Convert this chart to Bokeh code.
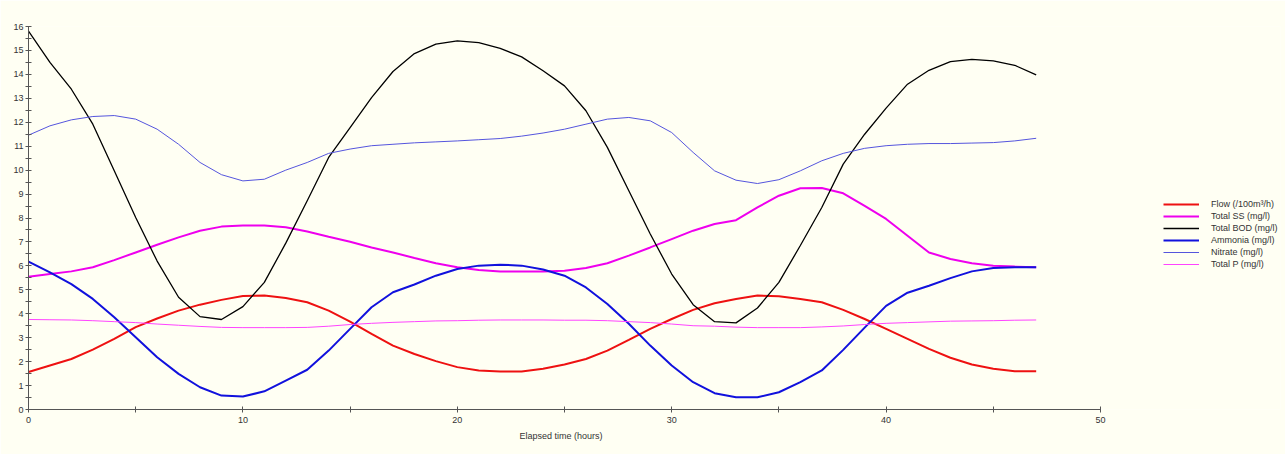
from bokeh.plotting import figure
from bokeh.models import Range1d, FixedTicker, Legend, LegendItem, Title
from bokeh.embed import file_html
from bokeh.resources import INLINE

hours = list(range(48))

flow = [1.57, 1.84, 2.11, 2.50, 2.95, 3.44, 3.80, 4.13, 4.38, 4.58, 4.74, 4.76,
        4.66, 4.48, 4.13, 3.67, 3.16, 2.67, 2.32, 2.02, 1.77, 1.63, 1.59, 1.59,
        1.70, 1.88, 2.11, 2.46, 2.91, 3.37, 3.78, 4.16, 4.44, 4.62, 4.76, 4.73,
        4.62, 4.48, 4.16, 3.78, 3.37, 2.95, 2.53, 2.16, 1.88, 1.70, 1.60, 1.60]

total_ss = [5.55, 5.66, 5.77, 5.94, 6.24, 6.56, 6.88, 7.19, 7.47, 7.64, 7.69, 7.69,
            7.61, 7.44, 7.22, 7.01, 6.77, 6.56, 6.33, 6.11, 5.94, 5.83, 5.77, 5.77,
            5.77, 5.80, 5.91, 6.11, 6.43, 6.77, 7.12, 7.47, 7.75, 7.91, 8.44, 8.93,
            9.24, 9.25, 9.03, 8.51, 7.96, 7.26, 6.56, 6.29, 6.11, 6.01, 5.97, 5.94]

total_bod = [15.81, 14.50, 13.38, 11.92, 9.97, 8.02, 6.20, 4.69, 3.88, 3.76, 4.30, 5.31,
             6.95, 8.72, 10.53, 11.78, 13.03, 14.12, 14.87, 15.26, 15.40, 15.33, 15.09, 14.73,
             14.15, 13.52, 12.48, 10.95, 9.14, 7.33, 5.66, 4.38, 3.67, 3.62, 4.24, 5.31,
             6.85, 8.44, 10.25, 11.50, 12.59, 13.59, 14.17, 14.53, 14.63, 14.56, 14.38, 13.98]

ammonia = [6.18, 5.73, 5.24, 4.62, 3.85, 3.02, 2.18, 1.49, 0.93, 0.58, 0.54, 0.76,
           1.21, 1.66, 2.46, 3.37, 4.27, 4.90, 5.22, 5.59, 5.87, 6.01, 6.05, 6.01,
           5.85, 5.59, 5.10, 4.41, 3.58, 2.67, 1.84, 1.14, 0.68, 0.51, 0.51, 0.72,
           1.14, 1.63, 2.49, 3.42, 4.33, 4.88, 5.17, 5.49, 5.77, 5.91, 5.94, 5.94]

nitrate = [11.46, 11.85, 12.10, 12.24, 12.28, 12.13, 11.71, 11.08, 10.32, 9.81, 9.55, 9.62,
           10.00, 10.32, 10.70, 10.88, 11.02, 11.08, 11.14, 11.18, 11.22, 11.27, 11.32, 11.42,
           11.55, 11.71, 11.92, 12.13, 12.20, 12.06, 11.57, 10.74, 9.97, 9.58, 9.44, 9.60,
           9.97, 10.39, 10.70, 10.91, 11.02, 11.08, 11.11, 11.11, 11.13, 11.15, 11.22, 11.33]

total_p = [3.76, 3.75, 3.74, 3.71, 3.67, 3.63, 3.57, 3.52, 3.47, 3.43, 3.42, 3.42,
           3.42, 3.43, 3.48, 3.55, 3.60, 3.64, 3.67, 3.70, 3.71, 3.73, 3.74, 3.74,
           3.74, 3.73, 3.73, 3.71, 3.67, 3.63, 3.57, 3.50, 3.48, 3.44, 3.42, 3.42,
           3.42, 3.45, 3.49, 3.55, 3.60, 3.63, 3.66, 3.69, 3.70, 3.71, 3.73, 3.74]

series_names = ["Flow (/100m\u00b3/h)", "Total SS (mg/l)", "Total BOD (mg/l)",
                "Ammonia (mg/l)", "Nitrate (mg/l)", "Total P (mg/l)"]
series_values = [flow, total_ss, total_bod, ammonia, nitrate, total_p]
series_colors = ["#ee1111", "#ee00ee", "#000000", "#1111dd", "#5555dd", "#ff44ff"]
series_widths = [2, 2, 1.3, 2, 1, 1]

x_ticks = [0, 10, 20, 30, 40, 50]
x_minor = [5, 15, 25, 35, 45]
y_ticks = list(range(17))
y_minor = [i + 0.5 for i in range(16)]
x_title = "Elapsed time (hours)"

BG = "#fffff3"
FONT = "Liberation Sans"

# frame spans past the axis end so the legend (right of the axis) is inside it
LEFT, RIGHT_EDGE, AXIS_END_PX = 28, 1280, 1100
x_end = 50 * (RIGHT_EDGE - LEFT) / (AXIS_END_PX - LEFT)

p = figure(width=1285, height=454, output_backend="svg", toolbar_location=None,
           x_range=Range1d(0, x_end), y_range=Range1d(0, 16),
           min_border_left=LEFT, min_border_right=1285 - RIGHT_EDGE,
           min_border_top=26, min_border_bottom=45)
p.background_fill_color = BG
p.border_fill_color = BG
p.outline_line_color = None
p.grid.visible = False

items = []
for name, vals, col, w in zip(series_names, series_values, series_colors, series_widths):
    r = p.line(hours, vals, line_color=col, line_width=w)
    items.append(LegendItem(label=name, renderers=[r]))

for ax in (p.xaxis[0], p.yaxis[0]):
    ax.axis_line_color = "#555555"
    ax.major_tick_line_color = "#555555"
    ax.minor_tick_line_color = "#555555"
    ax.major_tick_in = 3
    ax.major_tick_out = 3
    ax.minor_tick_in = 3
    ax.minor_tick_out = 3
    ax.major_label_text_font = FONT
    ax.major_label_text_font_size = "9px"
    ax.major_label_text_color = "#333333"

p.xaxis[0].bounds = (0, 50)
p.xaxis[0].ticker = FixedTicker(ticks=x_ticks, minor_ticks=x_minor)
p.yaxis[0].ticker = FixedTicker(ticks=y_ticks, minor_ticks=y_minor)
p.xaxis[0].major_label_standoff = 4
p.yaxis[0].major_label_standoff = 2

# axis title centred under the 0..50 axis
xt = Title(text=x_title, align="left", offset=491, text_font=FONT,
           text_font_size="9px", text_font_style="normal", text_color="#333333",
           standoff=7)
p.add_layout(xt, "below")

legend = Legend(items=items, location=(1135, 139))
legend.background_fill_alpha = 0
legend.border_line_color = None
legend.padding = 0
legend.margin = 0
legend.spacing = 0
legend.glyph_width = 36
legend.glyph_height = 12
legend.label_height = 12
legend.label_standoff = 12
legend.label_text_font = FONT
legend.label_text_font_size = "9px"
legend.label_text_color = "#333333"
p.add_layout(legend, "center")

open("out.html", "w").write(file_html(p, INLINE))
